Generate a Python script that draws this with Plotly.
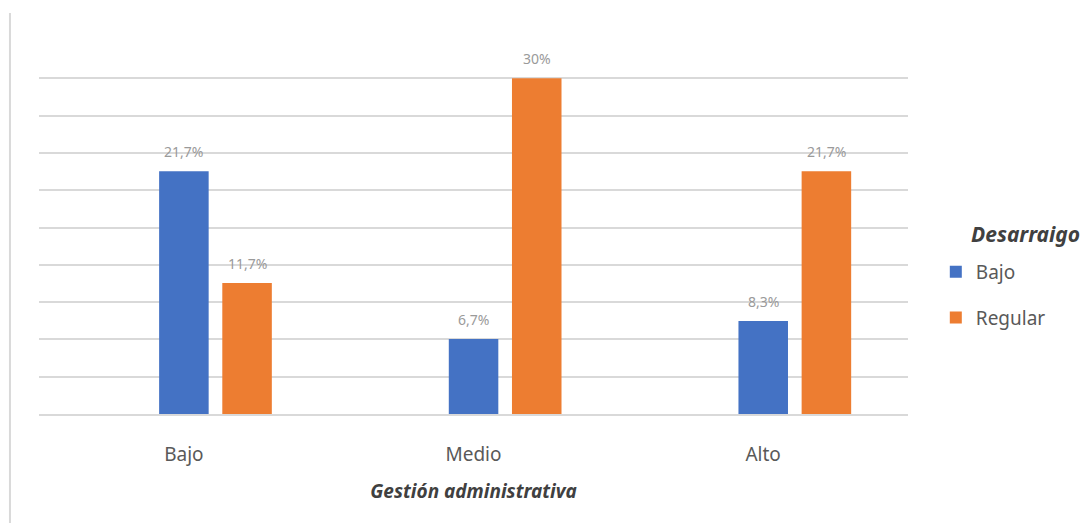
import plotly.graph_objects as go

categories = ["Bajo", "Medio", "Alto"]
bajo_values = [21.7, 6.7, 8.3]
regular_values = [11.7, 30.0, 21.7]
series_names = ["Bajo", "Regular"]
colors = ["#4472C4", "#ED7D31"]
legend_title = "Desarraigo"
x_title = "Gestión administrativa"

def fmt(v):
    s = ("%.1f" % v).rstrip("0").rstrip(".")
    return s.replace(".", ",") + "%"

bar_width = 0.171
offsets = [-0.0853, 0.1328]

fig = go.Figure()
annotations = []
for i, (name, vals) in enumerate(zip(series_names, [bajo_values, regular_values])):
    fig.add_trace(go.Bar(
        x=categories, y=vals, name=name,
        marker=dict(color=colors[i], line=dict(width=0)),
        width=bar_width, offset=offsets[i],
        legendgroup=name,
        hoverinfo="skip",
    ))
    for j, v in enumerate(vals):
        annotations.append(dict(
            x=j + offsets[i] + bar_width / 2, y=v, xref="x", yref="y",
            text=fmt(v), showarrow=False, yanchor="middle", yshift=20,
            font=dict(size=14, color="#9a9a9a", family="Noto Sans"),
        ))

annotations.append(dict(
    x=1.2002, y=0.4826, xref="paper", yref="paper", xanchor="right", yanchor="middle",
    text="<b><i>" + legend_title + "</i></b>", showarrow=False,
    font=dict(size=21, color="#404040", family="Noto Sans"),
))

fig.update_layout(
    width=1090, height=523,
    paper_bgcolor="white", plot_bgcolor="white",
    margin=dict(l=39, r=182, t=41, b=109),
    barmode="overlay",
    font=dict(family="Noto Sans", color="#595959", size=19),
    showlegend=True,
    legend=dict(
        x=1.032, y=0.432, xanchor="left", yanchor="top",
        traceorder="grouped", tracegroupgap=18,
        font=dict(size=19, color="#595959"),
        itemwidth=30,
    ),
    xaxis=dict(
        showgrid=False, showline=True, linecolor="#d9d9d9", linewidth=2,
        ticks="", ticklabelstandoff=22,
        tickfont=dict(size=19, color="#595959"),
        title=dict(text="<b><i>" + x_title + "</i></b>",
                   font=dict(size=19, color="#404040"), standoff=19),
    ),
    yaxis=dict(
        range=[0, 100 / 3], dtick=10 / 3, showticklabels=False,
        showgrid=True, gridcolor="#d9d9d9", gridwidth=1.5,
        zeroline=False, showline=False, ticks="",
    ),
    annotations=annotations,
    shapes=[dict(type="line", xref="paper", yref="paper",
                 x0=-0.0334, x1=-0.0334, y0=-0.3, y1=1.075,
                 line=dict(color="#d9d9d9", width=2))],
)

fig.write_html("out.html")
